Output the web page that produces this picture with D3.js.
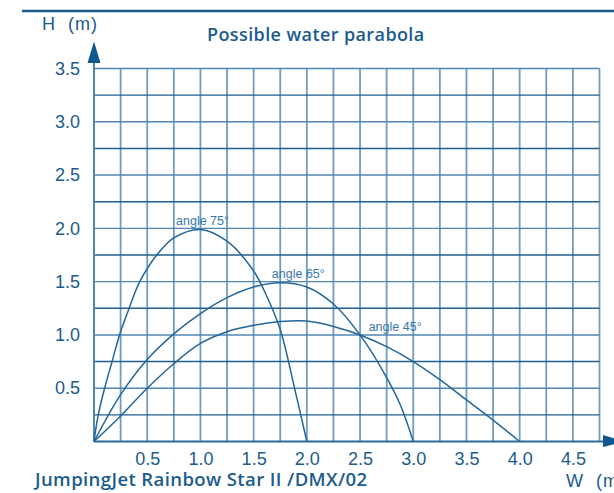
<!DOCTYPE html>
<html>
<head>
<meta charset="utf-8">
<script src="https://cdn.jsdelivr.net/npm/d3@7"></script>
<style>
  body { margin: 0; background: #fff; }
  svg { display: block; }
</style>
</head>
<body>
<div id="chart"></div>
<script>
// chart data (W in m, H in m)
var xTicks = [0.5, 1.0, 1.5, 2.0, 2.5, 3.0, 3.5, 4.0, 4.5];
var yTicks = [0.5, 1.0, 1.5, 2.0, 2.5, 3.0, 3.5];

var angle75 = [[0, 0], [0.04, 0.25], [0.1, 0.5], [0.17, 0.75], [0.24, 1.0], [0.33, 1.25], [0.43, 1.5],
    [0.59, 1.75], [0.75, 1.91], [1.0, 1.99], [1.25, 1.88], [1.5, 1.6], [1.62, 1.37], [1.75, 1.05],
    [1.88, 0.52], [2.0, 0]];
var angle65 = [[0, 0], [0.25, 0.44], [0.5, 0.77], [0.75, 1.01], [1.0, 1.2], [1.25, 1.35], [1.5, 1.45],
    [1.75, 1.49], [2.0, 1.45], [2.25, 1.29], [2.5, 1.0], [2.75, 0.6], [2.88, 0.34], [3.0, 0]];
var angle45 = [[0, 0], [0.25, 0.24], [0.5, 0.5], [0.75, 0.73], [1.0, 0.92], [1.25, 1.03], [1.5, 1.09],
    [1.75, 1.125], [2.0, 1.13], [2.25, 1.08], [2.5, 1.0], [2.75, 0.89], [3.0, 0.75],
    [3.25, 0.58], [3.5, 0.39], [3.75, 0.2], [4.0, 0]];

var seriesNames = ["angle 75°", "angle 65°", "angle 45°"];
var seriesData = [angle75, angle65, angle45];
// where each label sits (data coords of its centre/baseline)
var labelAt = [[1.02, 2.03], [1.92, 1.53], [2.83, 1.04]];

var svgWidth = 614;
var svgHeight = 493;
var blue = "#1b5b8e";

var svg = d3.select("#chart").append("svg")
    .attr("width", svgWidth)
    .attr("height", svgHeight);

// scales
var x = d3.scaleLinear().domain([0, 4.75]).range([94, 599.5]);
var y = d3.scaleLinear().domain([0, 3.5]).range([441.5, 68.5]);

// top rule
svg.append("line")
    .attr("x1", 22).attr("x2", 614)
    .attr("y1", 11).attr("y2", 11)
    .attr("stroke", blue).attr("stroke-width", 2.5);

// grid: every 0.25 m
var gridX = d3.range(1, 20).map(d => d * 0.25);
var gridY = d3.range(1, 15).map(d => d * 0.25);

svg.append("g").selectAll("line")
    .data(gridX).enter().append("line")
    .attr("x1", d => x(d)).attr("x2", d => x(d))
    .attr("y1", y(3.5)).attr("y2", y(0))
    .attr("stroke", "#6e9cc3").attr("stroke-width", 1.8);

svg.append("g").selectAll("line")
    .data(gridY).enter().append("line")
    .attr("x1", x(0)).attr("x2", x(4.75))
    .attr("y1", d => y(d)).attr("y2", d => y(d))
    .attr("stroke", (d, i) => i % 2 == 0 ? "#1f5f92" : "#4f86b5")
    .attr("stroke-width", 1.4);

// axes lines + arrows
svg.append("line")
    .attr("x1", x(0)).attr("x2", x(0))
    .attr("y1", y(0)).attr("y2", 62)
    .attr("stroke", "#4f86b5").attr("stroke-width", 2);
svg.append("line")
    .attr("x1", x(0)).attr("x2", 604)
    .attr("y1", y(0)).attr("y2", y(0))
    .attr("stroke", "#2a6a9c").attr("stroke-width", 2);
svg.append("path")
    .attr("d", "M94,41.5L100.5,63L87.5,63Z")
    .attr("fill", "#0f578f");
svg.append("path")
    .attr("d", `M603,435L625,${y(0)}L603,447Z`)
    .attr("fill", "#0f578f");

// tick labels through axes
var leftAxis = d3.axisLeft(y).tickValues(yTicks).tickFormat(d3.format(".1f")).tickSize(0).tickPadding(14);
var bottomAxis = d3.axisBottom(x).tickValues(xTicks).tickFormat(d3.format(".1f")).tickSize(0).tickPadding(11);

var gy = svg.append("g")
    .attr("transform", `translate(${x(0)},0)`)
    .call(leftAxis);
var gx = svg.append("g")
    .attr("transform", `translate(0,${y(0)})`)
    .call(bottomAxis);

[gx, gy].forEach(function (g) {
    g.select(".domain").remove();
    g.selectAll("text")
        .attr("fill", blue)
        .style("font-family", "'Liberation Sans', Arial, sans-serif")
        .style("font-size", "18px");
});

// parabolas
var line = d3.line()
    .x(d => x(d[0]))
    .y(d => y(d[1]))
    .curve(d3.curveCatmullRom.alpha(0.5));

svg.append("g").selectAll("path")
    .data(seriesData).enter().append("path")
    .attr("d", line)
    .attr("fill", "none")
    .attr("stroke", "#23669b")
    .attr("stroke-width", 1.5);

svg.append("g").selectAll("text")
    .data(seriesNames).enter().append("text")
    .attr("x", (d, i) => x(labelAt[i][0]))
    .attr("y", (d, i) => y(labelAt[i][1]))
    .attr("text-anchor", "middle")
    .attr("fill", "#3a78ab")
    .style("font-family", "'Liberation Sans', Arial, sans-serif")
    .style("font-size", "12.5px")
    .text(d => d);

// titles
svg.append("text")
    .attr("x", 42).attr("y", 30)
    .attr("fill", blue)
    .style("font-family", "'Liberation Sans', Arial, sans-serif")
    .style("font-size", "18px")
    .style("letter-spacing", "1px")
    .style("white-space", "pre")
    .text("H  (m)");

svg.append("text")
    .attr("x", 566).attr("y", 487)
    .attr("fill", blue)
    .style("font-family", "'Liberation Sans', Arial, sans-serif")
    .style("font-size", "18px")
    .style("letter-spacing", "1px")
    .style("white-space", "pre")
    .text("W  (m)");

svg.append("text")
    .attr("x", 207).attr("y", 41)
    .attr("fill", blue)
    .style("font-family", "'Open Sans', sans-serif")
    .style("font-weight", 600)
    .style("font-size", "18px")
    .style("letter-spacing", "0.4px")
    .text("Possible water parabola");

svg.append("text")
    .attr("x", 35).attr("y", 486)
    .attr("fill", blue)
    .style("font-family", "'Open Sans', sans-serif")
    .style("font-weight", 600)
    .style("font-size", "18.5px")
    .style("letter-spacing", "0.4px")
    .text("JumpingJet Rainbow Star II /DMX/02");
</script>
</body>
</html>
